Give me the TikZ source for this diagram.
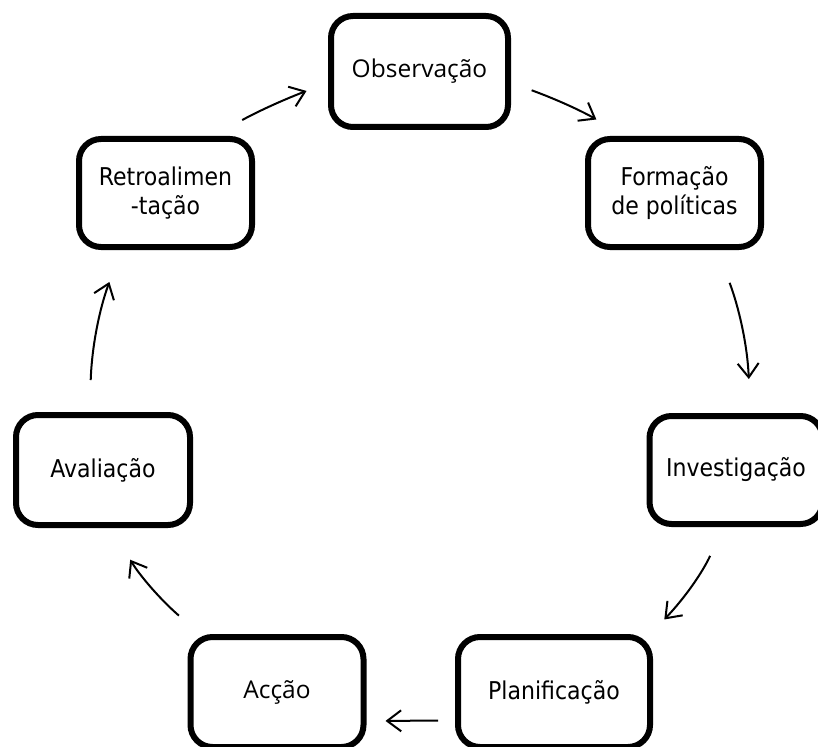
\documentclass[tikz,border=0pt]{standalone}
\usepackage{fontspec}
\newfontfamily\boxfont{DejaVu Sans Condensed}
\newfontfamily\roundfont{Open Sans}
\usetikzlibrary{arrows.meta}
\tikzstyle{stage} = [draw, line width=6pt, rounded corners=22pt, minimum width=173pt, minimum height=108pt, align=center, inner sep=0pt, font=\boxfont\fontsize{24.5}{29}\selectfont]
\tikzstyle{flow} = [draw, line width=2pt, -{Straight Barb[length=14pt,width=21pt]}]

\begin{document}
\begin{tikzpicture}[x=1pt,y=-1pt]
    \clip (0,0) rectangle (818,746);

        \node[stage,minimum width=177pt,minimum height=111pt,font=\roundfont\fontsize{24.5}{29}\selectfont] (obs) at (419.5,71.5) {Observação};
        \node[stage] (form) at (674.5,193) {Formação\\de políticas};
        \node[stage] (inv) at (736,470) {Investigação};
        \node[stage,minimum width=192pt,minimum height=110pt] (plan) at (554,692) {Planificação};
        \node[stage,minimum height=110pt,font=\roundfont\fontsize{24.5}{29}\selectfont] (accao) at (277,692) {Acção};
        \node[stage,minimum width=174pt,minimum height=110pt] (aval) at (103,470) {Avaliação};
        \node[stage] (retro) at (165.5,193) {Retroalimen\\-tação};

    \draw[flow,shorten <=33pt,shorten >=23pt] (retro.50) to[bend left=4] (obs.187);
    \draw[flow,shorten <=22pt,shorten >=33pt] (obs.-7.5) to[bend left=5] (form.131.5);
    \draw[flow,shorten <=35pt,shorten >=34pt] (form.-53.5) to[bend left=9] (inv.76);
    \draw[flow,shorten <=32pt,shorten >=20pt] (inv.258) to[bend left=9] (plan.31.4);
    \draw[flow,shorten <=17pt,shorten >=19pt] (plan.196.9) -- (accao.-18.6);
    \draw[flow,shorten <=28pt,shorten >=37pt] (accao.143.7) to[bend left=9] (aval.-82);
    \draw[flow,shorten <=32pt,shorten >=34pt] (aval.103.6) to[bend left=9] (retro.232);

    \end{tikzpicture}
\end{document}
